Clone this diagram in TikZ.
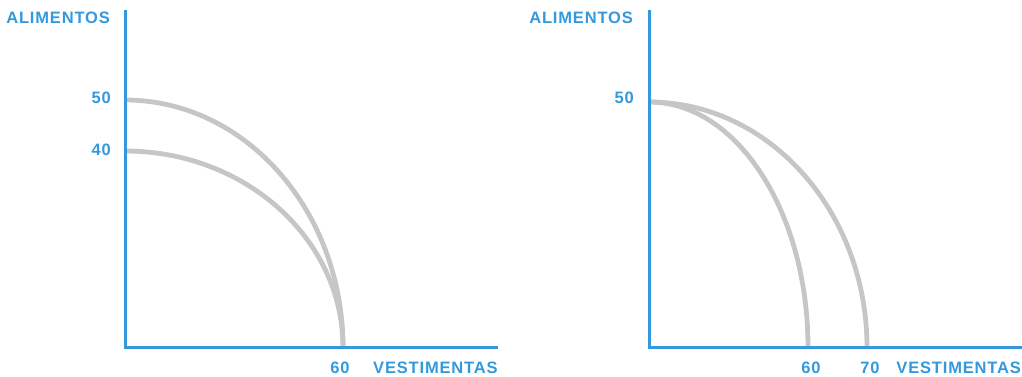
\documentclass[tikz,border=0pt]{standalone}
\usepackage{fontspec}
\newfontfamily\axfont{Liberation Sans}[LetterSpace=5]
\definecolor{axisblue}{HTML}{3499DC}
\definecolor{curvegray}{HTML}{C6C6C6}
\tikzset{
  axisline/.style={color=axisblue,line width=3pt},
  ppf/.style={color=curvegray,line width=4.8pt},
  axlabel/.style={color=axisblue,font=\axfont\bfseries\fontsize{16.5}{16.5}\selectfont,inner sep=0pt},
}
\begin{document}
\begin{tikzpicture}[x=1pt,y=1pt]
	\useasboundingbox (0,0) rectangle (1022,376);
	% left chart: both curves end at 60
	\coordinate (o1) at (125.5,28.5);
	\draw [ppf] (125,276) arc (90:0:218 and 247.5);
	\draw [ppf] (125,225) arc (90:0:218 and 196.5);
	\draw [axisline] (125.5,366) -- (o1) -- (498,28.5);
	\node [axlabel,anchor=east] (alim1) at (110,358) {ALIMENTOS};
	\node [axlabel,anchor=east] (c50a) at (111,278) {50};
	\node [axlabel,anchor=east] (c40a) at (111,226) {40};
	\node [axlabel] (v60a) at (340,8) {60};
	\node [axlabel,anchor=west] (vest1) at (373,8) {VESTIMENTAS};
	% right chart: both curves start at 50
	\coordinate (o2) at (649.5,28.5);
	\draw [ppf] (649,274) arc (90:0:159 and 245.5);
	\draw [ppf] (649,274) arc (90:0:218 and 245.5);
	\draw [axisline] (649.5,366) -- (o2) -- (1022,28.5);
	\node [axlabel,anchor=east] (alim2) at (633,358) {ALIMENTOS};
	\node [axlabel,anchor=east] (c50b) at (634,278) {50};
	\node [axlabel] (v60b) at (811,8) {60};
	\node [axlabel] (v70b) at (870,8) {70};
	\node [axlabel,anchor=east] (vest2) at (1021,8) {VESTIMENTAS};
\end{tikzpicture}
\end{document}
